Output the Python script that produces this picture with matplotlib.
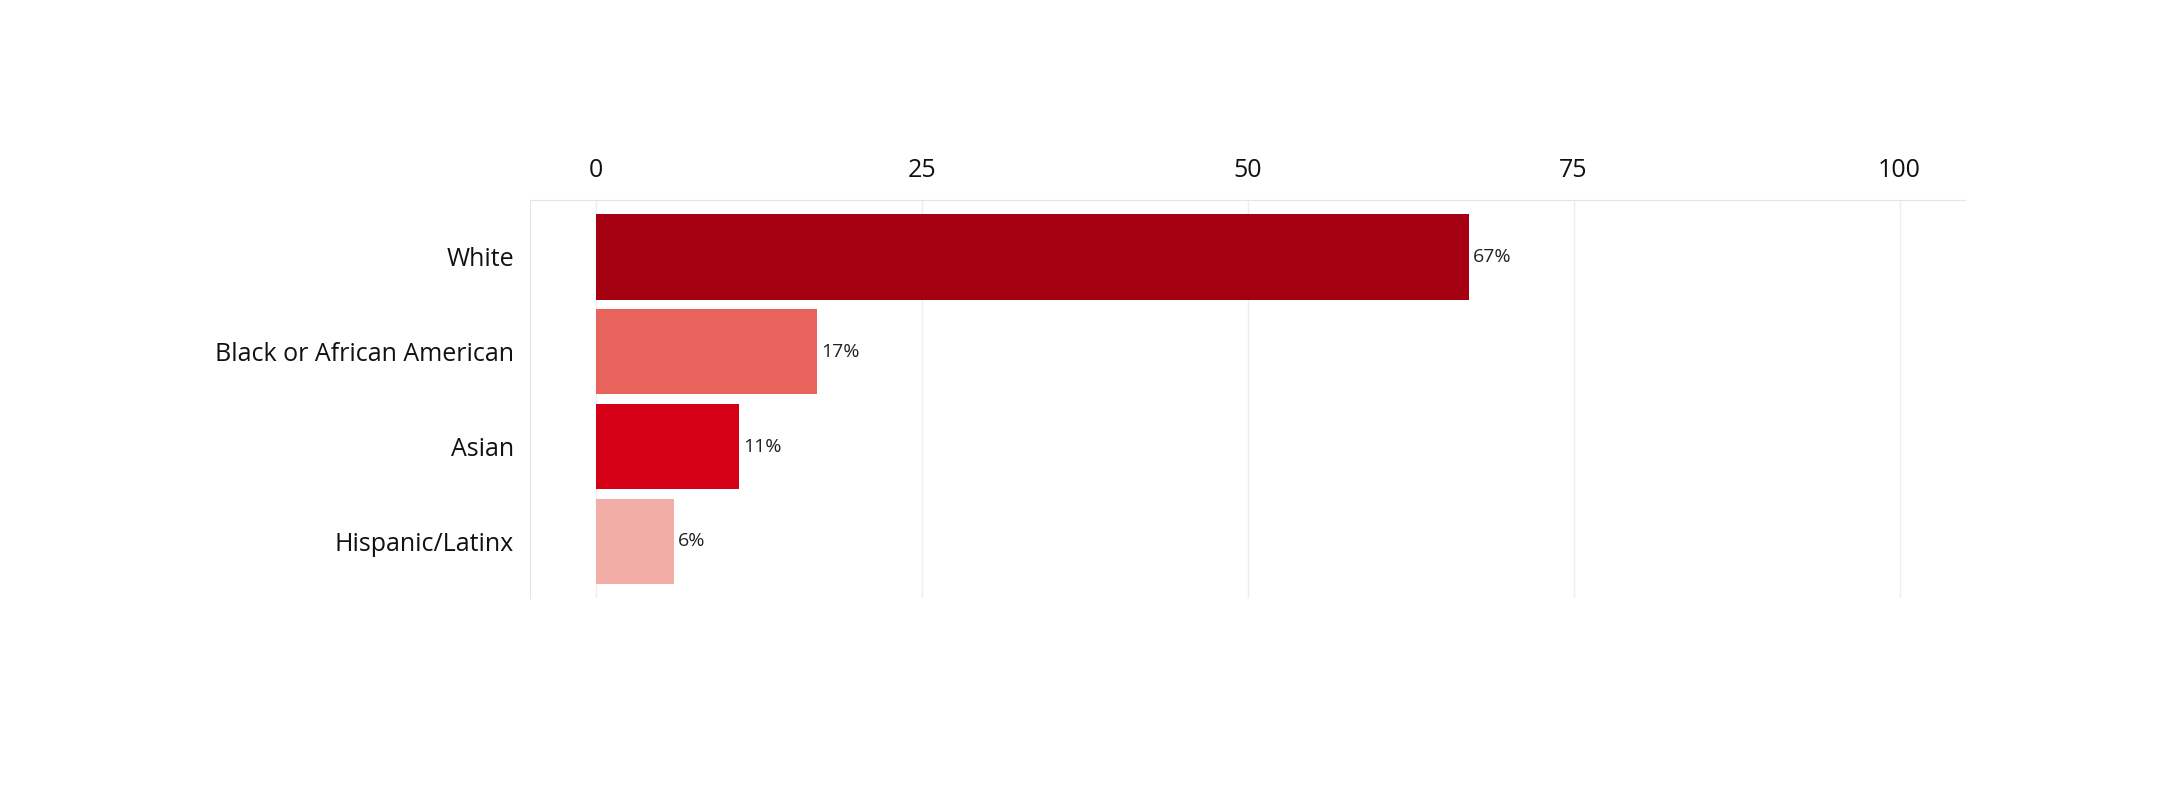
import matplotlib
matplotlib.use("Agg")
import matplotlib.pyplot as plt

categories = ["White", "Black or African American", "Asian", "Hispanic/Latinx"]
values = [67, 17, 11, 6]
colors = ["#A50011", "#E8635C", "#D50016", "#F2ADA6"]
ticks = [0, 25, 50, 75, 100]

plt.rcParams['font.family'] = ['Open Sans', 'DejaVu Sans']
fig = plt.figure(figsize=(21.65, 8), dpi=100)
ax = fig.add_axes([0.245, 0.252, 0.6625, 0.498])
y = range(len(categories))
ax.barh(y, values, height=0.9, color=colors, zorder=2)
for i, v in enumerate(values):
    ax.text(v + 0.3, i, f"{v}%", va="center", ha="left", fontsize=14, color="#222222")
ax.set_xlim(-5, 105)
ax.set_ylim(3.6, -0.6)
ax.set_yticks(list(y))
ax.set_yticklabels(categories, fontsize=18, color="#111111")
ax.set_xticks(ticks)
ax.set_xticklabels([str(t) for t in ticks], fontsize=18, color="#111111")
ax.xaxis.tick_top()
ax.tick_params(length=0, pad=12)
ax.grid(axis="x", color="#EEEEEE", lw=1, zorder=0)
for s in ["right", "bottom"]:
    ax.spines[s].set_visible(False)
for s in ["left", "top"]:
    ax.spines[s].set_color("#E5E5E5")
fig.savefig("out.png", dpi=100)
